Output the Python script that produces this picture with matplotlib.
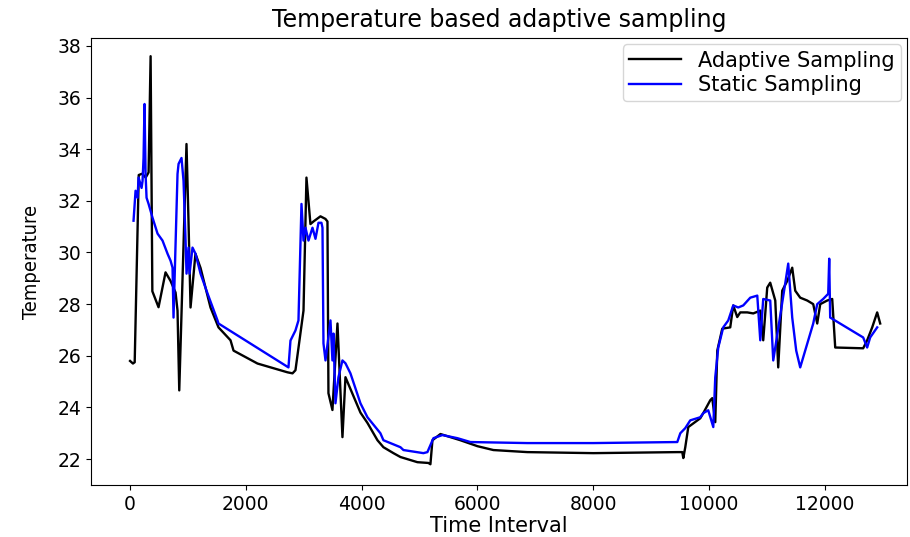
import matplotlib.pyplot as plt

# Adaptive sampling (black)
adaptive_t = [0, 50, 80, 150, 210, 270, 320, 355, 385, 492, 613, 699, 786, 820, 850,
              975, 1010, 1045, 1130, 1218, 1390, 1528, 1736, 1788, 2202, 2720, 2807,
              2858, 2997, 3048, 3117, 3169, 3290, 3376, 3411, 3428, 3497, 3584, 3670,
              3722, 3981, 4102, 4275, 4378, 4551, 4672, 4965, 5155, 5190, 5225, 5363,
              5708, 6002, 6278, 6865, 8005, 9456, 9542, 9560, 9594, 9646, 9853, 9905,
              10026, 10060, 10112, 10147, 10233, 10371, 10423, 10492, 10544, 10665,
              10769, 10890, 10941, 11010, 11062, 11149, 11200, 11269, 11356, 11442,
              11494, 11580, 11701, 11805, 11874, 11926, 12047, 12133, 12185, 12668,
              12737, 12824, 12910, 12962]
adaptive_temp = [25.8, 25.7, 25.75, 33.0, 33.05, 32.9, 33.1, 37.6, 28.5, 27.88, 29.23,
                 28.9, 28.45, 27.75, 24.66, 34.2, 31.2, 27.87, 29.95, 29.4, 27.87, 27.1,
                 26.6, 26.2, 25.7, 25.36, 25.32, 25.44, 27.75, 32.9, 31.1, 31.2, 31.4,
                 31.3, 31.2, 24.55, 23.9, 27.25, 22.85, 25.17, 23.8, 23.4, 22.73, 22.46,
                 22.23, 22.08, 21.88, 21.85, 21.8, 22.73, 22.97, 22.73, 22.5, 22.35,
                 22.27, 22.23, 22.27, 22.27, 22.04, 22.46, 23.24, 23.58, 23.78, 24.28,
                 24.36, 23.43, 26.2, 27.05, 27.1, 27.95, 27.5, 27.68, 27.68, 27.64,
                 27.75, 26.6, 28.64, 28.83, 28.14, 25.55, 28.52, 28.9, 29.41, 28.52,
                 28.25, 28.14, 28.0, 27.25, 28.0, 28.14, 28.2, 26.32, 26.29, 26.6,
                 27.1, 27.68, 27.25]

# Static sampling (blue)
static_t = [60, 95, 130, 147, 199, 216, 233, 250, 268, 285, 320, 389, 475, 561, 648,
            700, 734, 751, 820, 838, 889, 924, 959, 976, 1010, 1028, 1079, 1131, 1218,
            1339, 1511, 1528, 2737, 2772, 2858, 2910, 2962, 2997, 3031, 3083, 3152,
            3204, 3256, 3307, 3325, 3342, 3377, 3463, 3497, 3515, 3549, 3601, 3670,
            3722, 3808, 3981, 4102, 4326, 4378, 4672, 4724, 5069, 5138, 5242, 5397,
            5656, 5881, 6865, 8005, 9456, 9508, 9594, 9680, 9853, 9905, 9991, 10078,
            10112, 10164, 10250, 10337, 10423, 10509, 10596, 10717, 10838, 10890,
            10941, 11062, 11114, 11321, 11373, 11442, 11511, 11580, 11805, 11874,
            11977, 12064, 12081, 12098, 12668, 12737, 12789, 12910]
static_temp = [31.23, 32.39, 32.12, 32.9, 32.5, 32.77, 33.66, 35.75, 33.04, 32.12,
               31.88, 31.34, 30.73, 30.46, 29.95, 29.68, 29.41, 27.48, 33.04, 33.43,
               33.66, 32.77, 30.46, 29.18, 30.19, 29.18, 30.19, 29.95, 29.18, 28.41,
               27.37, 27.25, 25.55, 26.59, 26.98, 27.37, 31.88, 30.46, 30.96, 30.46,
               30.96, 30.53, 31.15, 31.15, 30.96, 26.48, 25.82, 27.37, 25.82, 26.86,
               24.16, 25.17, 25.82, 25.71, 25.32, 24.16, 23.62, 23.0, 22.73, 22.46,
               22.35, 22.23, 22.27, 22.81, 22.93, 22.81, 22.66, 22.62, 22.62, 22.66,
               23.0, 23.2, 23.5, 23.62, 23.78, 23.89, 23.24, 25.17, 26.32, 27.1, 27.37,
               27.95, 27.87, 27.95, 28.25, 28.33, 26.6, 28.2, 28.14, 25.82, 28.8,
               29.57, 27.48, 26.2, 25.55, 27.25, 28.0, 28.2, 28.4, 29.76, 27.48,
               26.71, 26.32, 26.71, 27.1]

fig = plt.figure(figsize=(9.1, 5.37), dpi=100)
ax = fig.add_axes([0.1, 0.097, 0.897, 0.832])

ax.plot(adaptive_t, adaptive_temp, color='black', lw=1.7, label='Adaptive Sampling')
ax.plot(static_t, static_temp, color='blue', lw=1.7, label='Static Sampling')

ax.set_xlim(-675, 13430)
ax.set_ylim(21.0, 38.3)
ax.set_xticks(range(0, 12001, 2000))
ax.set_yticks(range(22, 39, 2))
ax.tick_params(labelsize=13.5)

ax.set_title('Temperature based adaptive sampling', fontsize=17, pad=8)
ax.set_xlabel('Time Interval', fontsize=15, labelpad=2)
ax.set_ylabel('Temperature', fontsize=14.5, family='DejaVu Sans', fontstretch='condensed',
              labelpad=12)
ax.legend(loc='upper right', fontsize=15, borderaxespad=0.3, handlelength=2.5,
          labelspacing=0.2, borderpad=0.3)

plt.savefig('out.png')
